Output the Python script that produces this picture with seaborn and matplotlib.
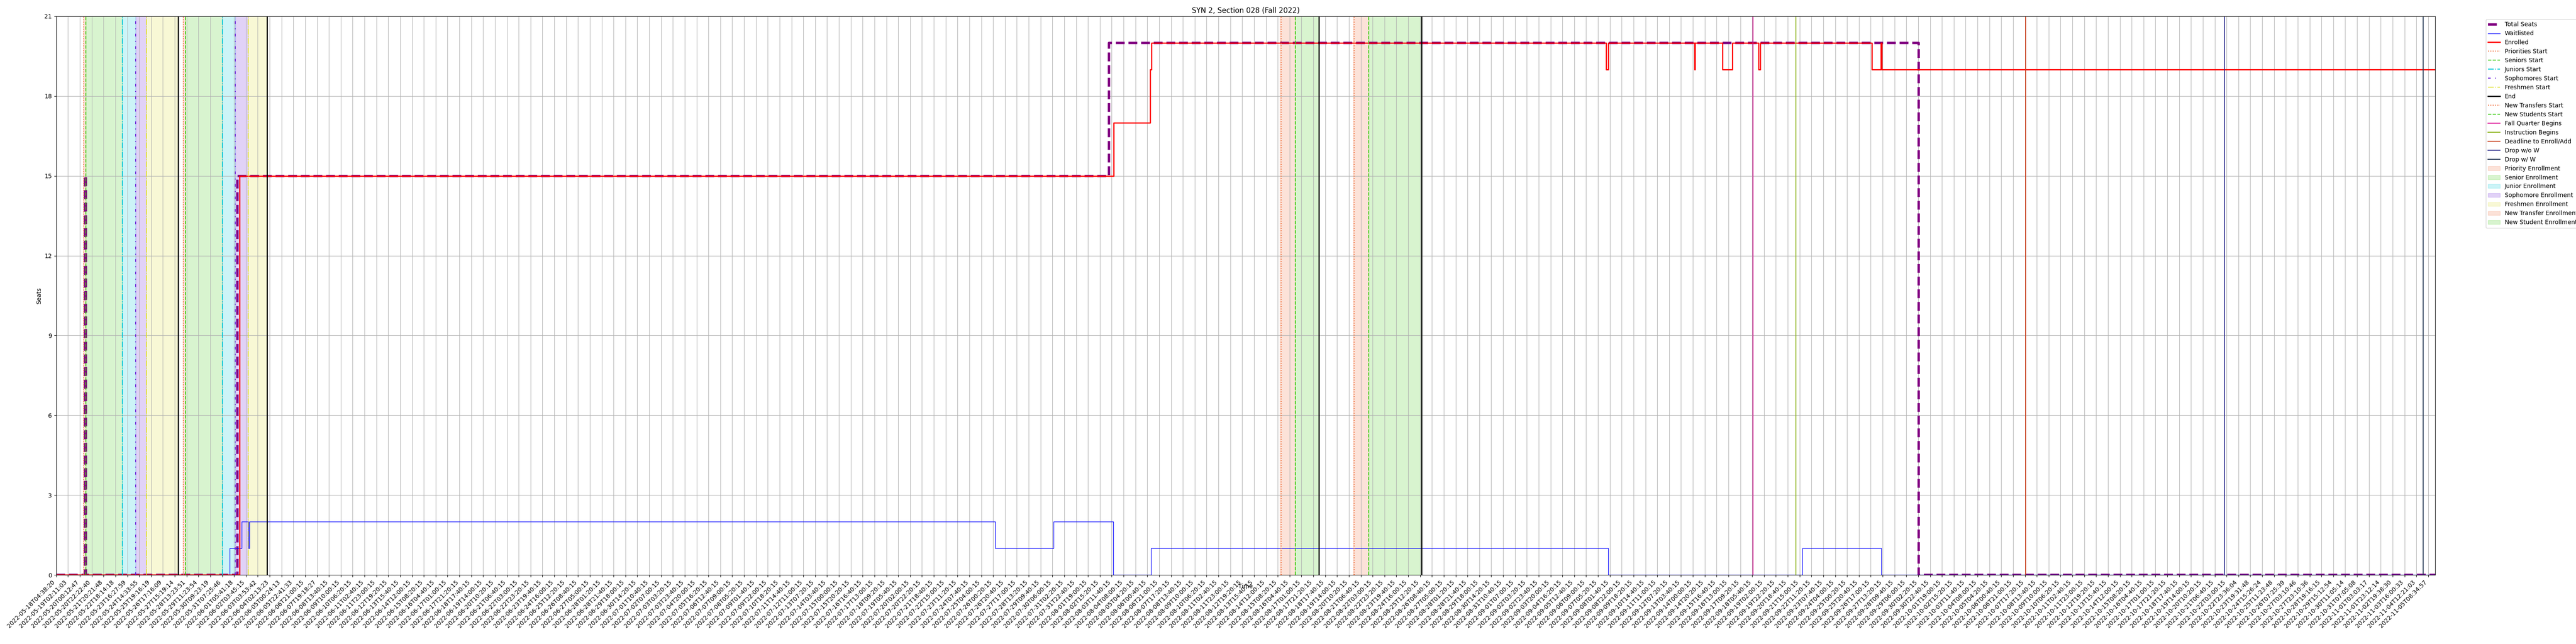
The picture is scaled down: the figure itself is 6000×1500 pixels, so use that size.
import matplotlib
matplotlib.use('Agg')
import matplotlib.pyplot as plt
import seaborn as sns
import pandas as pd

# 数据 (x = position on the sample axis, one unit per labelled tick)
seats_x = [0, 2.42, 2.50, 15.30, 88.77, 157.05, 200.58]
seats_y = [0, 15, 0, 15, 20, 0, 0]

wait_x = [0, 14.64, 15.64, 16.22, 16.29, 79.19, 84.11, 89.14, 92.31, 130.88, 147.22, 153.88, 200.58]
wait_y = [0, 1, 2, 1, 2, 1, 2, 0, 1, 0, 1, 0, 0]

enr_x = [0, 15.48, 89.16, 92.26, 92.35, 130.69, 130.88, 138.13, 138.18, 140.50, 141.33,
         143.53, 143.69, 153.11, 153.86, 153.91, 200.58]
enr_y = [0, 15, 17, 19, 20, 19, 20, 19, 20, 19, 20, 19, 20, 19, 20, 19, 19]

# 事件 (name, position)
event_names = ['Priorities Start', 'Seniors Start', 'Juniors Start', 'Sophomores Start',
               'Freshmen Start', 'End',
               'Priorities Start', 'Seniors Start', 'Juniors Start', 'Sophomores Start',
               'Freshmen Start', 'End',
               'New Transfers Start', 'New Students Start', 'End',
               'New Transfers Start', 'New Students Start', 'End',
               'Fall Quarter Begins', 'Instruction Begins', 'Deadline to Enroll/Add',
               'Drop w/o W', 'Drop w/ W']
event_pos = [2.33, 2.52, 5.58, 6.72, 7.62, 10.30,
             10.73, 10.92, 14.03, 15.12, 16.18, 17.79,
             103.27, 104.49, 106.48,
             109.43, 110.66, 115.13,
             143.05, 146.69, 166.04, 182.82, 199.59]

# 阶段 (name, start, end)
span_names = ['Priority Enrollment', 'Senior Enrollment', 'Junior Enrollment',
              'Sophomore Enrollment', 'Freshmen Enrollment',
              'Priority Enrollment', 'Senior Enrollment', 'Junior Enrollment',
              'Sophomore Enrollment', 'Freshmen Enrollment',
              'New Transfer Enrollment', 'New Student Enrollment',
              'New Transfer Enrollment', 'New Student Enrollment']
span_start = [2.28, 2.52, 5.58, 6.72, 7.62,
              10.68, 10.92, 14.03, 15.12, 16.18,
              103.18, 104.49, 109.38, 110.66]
span_end = [2.52, 5.58, 6.72, 7.62, 10.30,
            10.92, 14.03, 15.12, 16.18, 17.79,
            104.49, 106.48, 110.66, 115.13]

# 刻度标签 (middle part estimated, too small to read)
tick_labels = [
    '2022-05-18T04:38:20', '2022-05-19T02:11:03', '2022-05-20T00:12:47', '2022-05-20T22:22:40',
    '2022-05-21T20:21:48', '2022-05-22T18:14:18', '2022-05-23T16:27:59', '2022-05-24T14:33:55',
    '2022-05-25T19:16:19', '2022-05-26T17:16:09', '2022-05-27T15:19:14', '2022-05-28T13:23:51',
    '2022-05-29T11:23:54', '2022-05-30T09:23:19', '2022-05-31T07:25:46', '2022-06-01T05:41:18',
    '2022-06-02T03:45:15', '2022-06-03T03:53:42', '2022-06-04T02:13:23', '2022-06-05T00:24:13',
    '2022-06-05T22:41:33', '2022-06-06T21:00:15', '2022-06-07T19:18:27', '2022-06-08T13:40:15',
    '2022-06-09T10:00:15', '2022-06-10T06:20:15', '2022-06-11T02:40:15', '2022-06-11T23:00:15',
    '2022-06-12T19:20:15', '2022-06-13T15:40:15', '2022-06-14T12:00:15', '2022-06-15T08:20:15',
    '2022-06-16T04:40:15', '2022-06-17T01:00:15', '2022-06-17T21:20:15', '2022-06-18T17:40:15',
    '2022-06-19T14:00:15', '2022-06-20T10:20:15', '2022-06-21T06:40:15', '2022-06-22T03:00:15',
    '2022-06-22T23:20:15', '2022-06-23T19:40:15', '2022-06-24T16:00:15', '2022-06-25T12:20:15',
    '2022-06-26T08:40:15', '2022-06-27T05:00:15', '2022-06-28T01:20:15', '2022-06-28T21:40:15',
    '2022-06-29T18:00:15', '2022-06-30T14:20:15', '2022-07-01T10:40:15', '2022-07-02T07:00:15',
    '2022-07-03T03:20:15', '2022-07-03T23:40:15', '2022-07-04T20:00:15', '2022-07-05T16:20:15',
    '2022-07-06T12:40:15', '2022-07-07T09:00:15', '2022-07-08T05:20:15', '2022-07-09T01:40:15',
    '2022-07-09T22:00:15', '2022-07-10T18:20:15', '2022-07-11T14:40:15', '2022-07-12T11:00:15',
    '2022-07-13T07:20:15', '2022-07-14T03:40:15', '2022-07-15T00:00:15', '2022-07-15T20:20:15',
    '2022-07-16T16:40:15', '2022-07-17T13:00:15', '2022-07-18T09:20:15', '2022-07-19T05:40:15',
    '2022-07-20T02:00:15', '2022-07-20T22:20:15', '2022-07-21T18:40:15', '2022-07-22T15:00:15',
    '2022-07-23T11:20:15', '2022-07-24T07:40:15', '2022-07-25T04:00:15', '2022-07-26T00:20:15',
    '2022-07-26T20:40:15', '2022-07-27T17:00:15', '2022-07-28T13:20:15', '2022-07-29T09:40:15',
    '2022-07-30T06:00:15', '2022-07-31T02:20:15', '2022-07-31T22:40:15', '2022-08-01T19:00:15',
    '2022-08-02T15:20:15', '2022-08-03T11:40:15', '2022-08-04T08:00:15', '2022-08-05T04:20:15',
    '2022-08-06T00:40:15', '2022-08-06T21:00:15', '2022-08-07T17:20:15', '2022-08-08T13:40:15',
    '2022-08-09T10:00:15', '2022-08-10T06:20:15', '2022-08-11T02:40:15', '2022-08-11T23:00:15',
    '2022-08-12T19:20:15', '2022-08-13T15:40:15', '2022-08-14T12:00:15', '2022-08-15T08:20:15',
    '2022-08-16T04:40:15', '2022-08-17T01:00:15', '2022-08-17T21:20:15', '2022-08-18T17:40:15',
    '2022-08-19T14:00:15', '2022-08-20T10:20:15', '2022-08-21T06:40:15', '2022-08-22T03:00:15',
    '2022-08-22T23:20:15', '2022-08-23T19:40:15', '2022-08-24T16:00:15', '2022-08-25T12:20:15',
    '2022-08-26T08:40:15', '2022-08-27T05:00:15', '2022-08-28T01:20:15', '2022-08-28T21:40:15',
    '2022-08-29T18:00:15', '2022-08-30T14:20:15', '2022-08-31T10:40:15', '2022-09-01T07:00:15',
    '2022-09-02T03:20:15', '2022-09-02T23:40:15', '2022-09-03T20:00:15', '2022-09-04T16:20:15',
    '2022-09-05T12:40:15', '2022-09-06T09:00:15', '2022-09-07T05:20:15', '2022-09-08T01:40:15',
    '2022-09-08T22:00:15', '2022-09-09T18:20:15', '2022-09-10T14:40:15', '2022-09-11T11:00:15',
    '2022-09-12T07:20:15', '2022-09-13T03:40:15', '2022-09-14T00:00:15', '2022-09-14T20:20:15',
    '2022-09-15T16:40:15', '2022-09-16T13:00:15', '2022-09-17T09:20:15', '2022-09-18T05:40:15',
    '2022-09-19T02:00:15', '2022-09-19T22:20:15', '2022-09-20T18:40:15', '2022-09-21T15:00:15',
    '2022-09-22T11:20:15', '2022-09-23T07:40:15', '2022-09-24T04:00:15', '2022-09-25T00:20:15',
    '2022-09-25T20:40:15', '2022-09-26T17:00:15', '2022-09-27T13:20:15', '2022-09-28T09:40:15',
    '2022-09-29T06:00:15', '2022-09-30T02:20:15', '2022-09-30T22:40:15', '2022-10-01T19:00:15',
    '2022-10-02T15:20:15', '2022-10-03T11:40:15', '2022-10-04T08:00:15', '2022-10-05T04:20:15',
    '2022-10-06T00:40:15', '2022-10-06T21:00:15', '2022-10-07T17:20:15', '2022-10-08T13:40:15',
    '2022-10-09T10:00:15', '2022-10-10T06:20:15', '2022-10-11T02:40:15', '2022-10-11T23:00:15',
    '2022-10-12T19:20:15', '2022-10-13T15:40:15', '2022-10-14T12:00:15', '2022-10-15T08:20:15',
    '2022-10-16T04:40:15', '2022-10-17T01:00:15', '2022-10-17T21:20:15', '2022-10-18T17:40:15',
    '2022-10-19T14:00:15', '2022-10-20T10:20:15', '2022-10-21T06:40:15', '2022-10-22T03:00:15',
    '2022-10-22T23:36:04', '2022-10-23T19:31:48', '2022-10-24T15:26:24', '2022-10-25T11:23:48',
    '2022-10-26T07:25:39', '2022-10-27T03:10:46', '2022-10-27T23:10:36', '2022-10-28T19:16:15',
    '2022-10-29T15:12:54', '2022-10-30T11:05:14', '2022-10-31T07:05:08', '2022-11-01T03:03:17',
    '2022-11-01T23:12:14', '2022-11-02T19:38:30', '2022-11-03T16:00:33', '2022-11-04T12:21:03',
    '2022-11-05T08:34:57',
]

event_style = {
    'Priorities Start': dict(color='#f0703c', linestyle=':', linewidth=1.5),
    'Seniors Start': dict(color='#3dcc12', linestyle='--', linewidth=1.5),
    'Juniors Start': dict(color='#00c8d8', linestyle='-.', linewidth=1.5),
    'Sophomores Start': dict(color='#6a1fd8', linestyle=(0, (3, 5, 1, 5)), linewidth=1.5),
    'Freshmen Start': dict(color='#e0e030', linestyle='-.', linewidth=1.5),
    'End': dict(color='black', linestyle='-', linewidth=2),
    'New Transfers Start': dict(color='#f0703c', linestyle=':', linewidth=1.5),
    'New Students Start': dict(color='#3dcc12', linestyle='--', linewidth=1.5),
    'Fall Quarter Begins': dict(color='#dc1496', linestyle='-', linewidth=1.5),
    'Instruction Begins': dict(color='#8cb41e', linestyle='-', linewidth=1.5),
    'Deadline to Enroll/Add': dict(color='#c8401e', linestyle='-', linewidth=1.5),
    'Drop w/o W': dict(color='#2b2b8c', linestyle='-', linewidth=1.5),
    'Drop w/ W': dict(color='#2c3e5a', linestyle='-', linewidth=1.5),
}
span_color = {
    'Priority Enrollment': '#f0703c',
    'Senior Enrollment': '#3dcc12',
    'Junior Enrollment': '#00c8d8',
    'Sophomore Enrollment': '#6a1fd8',
    'Freshmen Enrollment': '#e0e030',
    'New Transfer Enrollment': '#f0703c',
    'New Student Enrollment': '#3dcc12',
}

# 可视化
fig, ax = plt.subplots(figsize=(60, 15), dpi=100)
fig.subplots_adjust(left=0.0218, right=0.9453, top=0.9747, bottom=0.1073)

seats = pd.DataFrame({'x': seats_x, 'y': seats_y})
wait = pd.DataFrame({'x': wait_x, 'y': wait_y})
enr = pd.DataFrame({'x': enr_x, 'y': enr_y})

sns.lineplot(data=seats, x='x', y='y', ax=ax, color='purple', linewidth=4, linestyle='--',
             drawstyle='steps-post', estimator=None, sort=False, label='Total Seats')
sns.lineplot(data=wait, x='x', y='y', ax=ax, color='blue', linewidth=1,
             drawstyle='steps-post', estimator=None, sort=False, label='Waitlisted')
sns.lineplot(data=enr, x='x', y='y', ax=ax, color='red', linewidth=2,
             drawstyle='steps-post', estimator=None, sort=False, label='Enrolled')

seen = set()
for name, pos in zip(event_names, event_pos):
    ax.axvline(pos, label=None if name in seen else name, **event_style[name])
    seen.add(name)

seen = set()
for name, s, e in zip(span_names, span_start, span_end):
    ax.axvspan(s, e, color=span_color[name], alpha=0.2,
               label=None if name in seen else name)
    seen.add(name)

ax.set_xticks(range(len(tick_labels)))
ax.set_xticklabels(tick_labels, rotation=45, ha='right')
ax.set_yticks(range(0, 22, 3))
ax.set_xlim(0, 200.58)
ax.set_ylim(0, 21)
ax.grid(True)
ax.set_title('SYN 2, Section 028 (Fall 2022)')
ax.set_xlabel('Time')
ax.xaxis.set_label_coords(0.5, -0.015)
ax.set_ylabel('Seats')
ax.legend(loc='upper left', bbox_to_anchor=(1.02, 1.0))

fig.savefig('out.png', dpi=100)
